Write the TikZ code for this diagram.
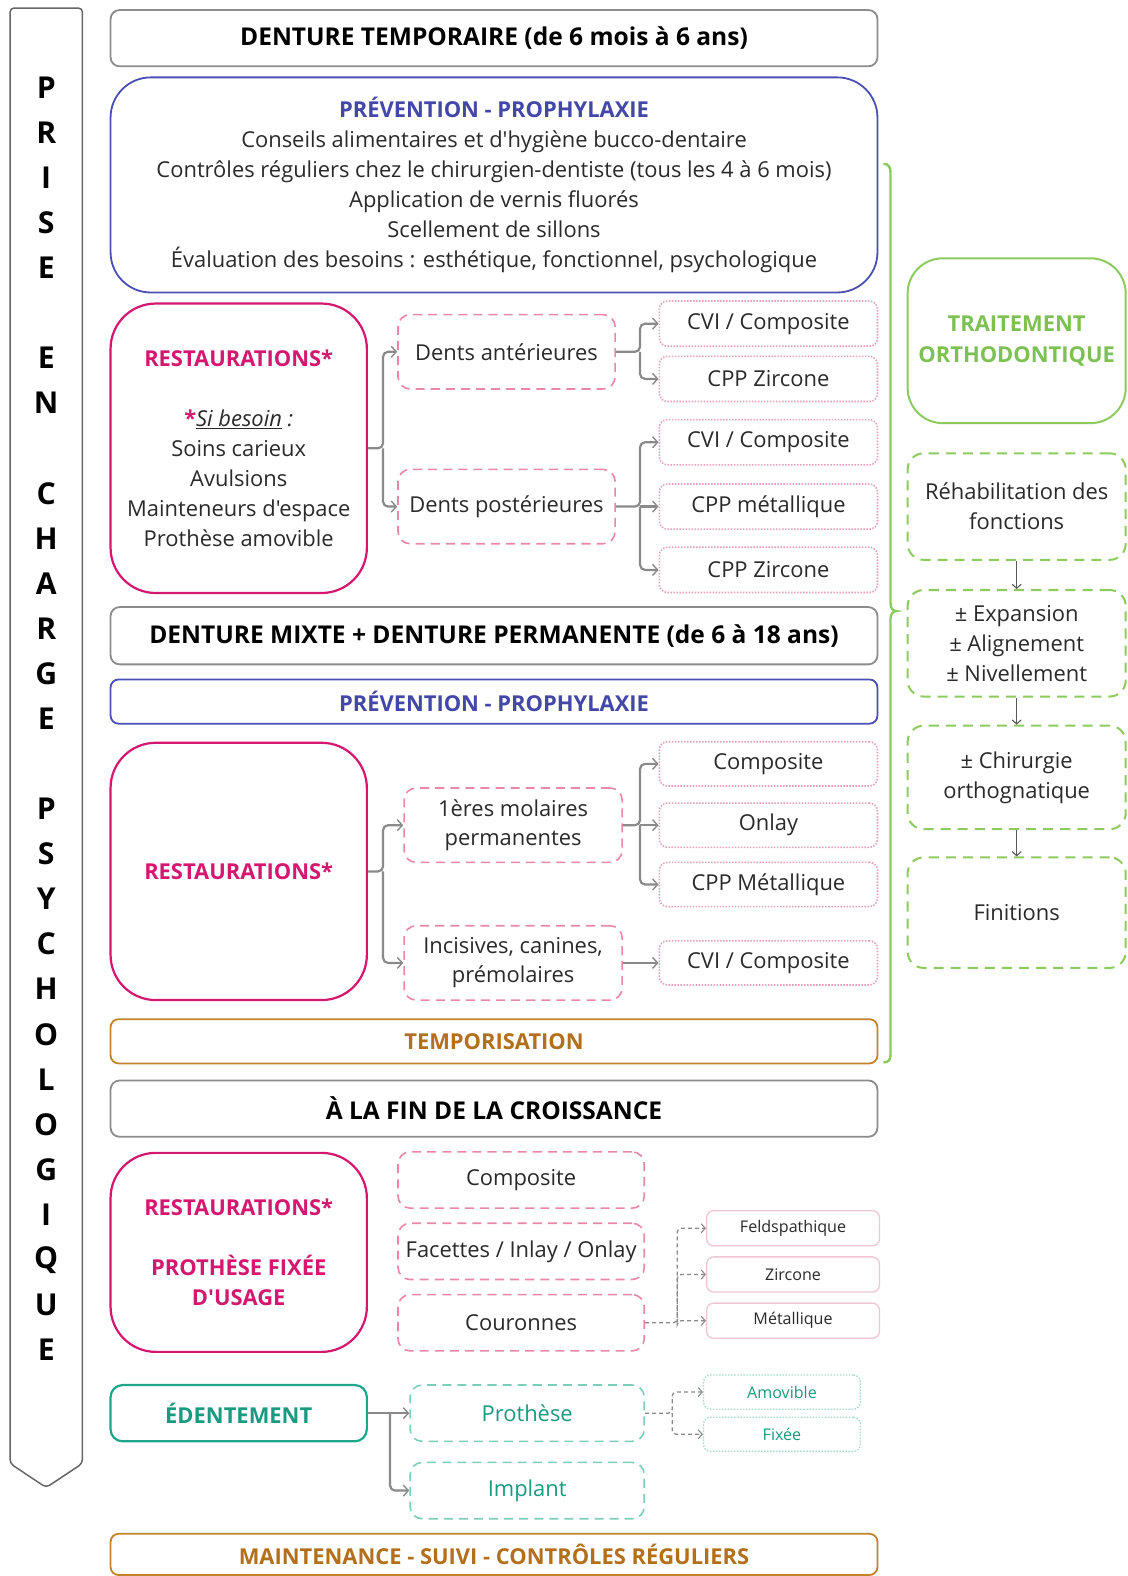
\documentclass[tikz,border=0pt]{standalone}
\usepackage{fontspec}
\setmainfont{Open Sans}[Ligatures=TeXOff]
\usetikzlibrary{arrows.meta}
\definecolor{hgray}{HTML}{8C8C8C}
\definecolor{cgray}{HTML}{8A8A8A}
\definecolor{txt}{HTML}{2A2A2A}
\definecolor{pblue}{HTML}{4A4FB5}
\definecolor{tblue}{HTML}{4347A8}
\definecolor{mag}{HTML}{D4176F}
\definecolor{pinkd}{HTML}{E987AA}
\definecolor{pinkdot}{HTML}{E4A0BC}
\definecolor{pinkl}{HTML}{F0C6D3}
\definecolor{grn}{HTML}{8DCB5E}
\definecolor{tgrn}{HTML}{7DC152}
\definecolor{teal}{HTML}{1FA58C}
\definecolor{ttxt}{HTML}{1A9A80}
\definecolor{teall}{HTML}{7CCDBA}
\definecolor{teald}{HTML}{A5DCCF}
\definecolor{org}{HTML}{C4832B}
\definecolor{torg}{HTML}{B36F1A}
\begin{document}
\begin{tikzpicture}[x=1pt,y=-1pt,
  box/.style={draw, fill=white, align=center, inner sep=2pt, text=txt},
  body/.style={font=\fontsize{21.8}{30}\selectfont},
  small/.style={font=\fontsize{16}{20}\selectfont},
  wide/.style={minimum width=763pt},
  hdr/.style={box, wide, draw=hgray, line width=1.8pt, rounded corners=9pt, minimum height=56pt, font=\fontsize{24.4}{28}\selectfont\bfseries, text=black},
  thin/.style={box, wide, line width=1.8pt, rounded corners=8pt, minimum height=44pt, font=\fontsize{21.8}{26}\selectfont\bfseries},
  restbox/.style={box, draw=mag, line width=2.2pt, rounded corners=45pt, minimum width=255pt},
  pdash/.style={box, body, draw=pinkd, line width=1.6pt, dash pattern=on 9pt off 6pt, rounded corners=12pt},
  pdot/.style={box, body, draw=pinkdot, line width=1.6pt, dash pattern=on 1.5pt off 1.5pt, rounded corners=8pt, minimum width=217pt},
  mbox/.style={box, small, draw=pinkl, line width=1.3pt, rounded corners=7pt, minimum width=172pt, minimum height=35pt},
  tdot/.style={box, small, draw=teald, line width=1.3pt, dash pattern=on 1.5pt off 1.5pt, rounded corners=7pt, minimum width=156pt, minimum height=34pt, text=ttxt},
  tdash/.style={box, body, draw=teall, line width=1.6pt, dash pattern=on 9pt off 6pt, rounded corners=12pt, minimum width=233pt, minimum height=56pt, text=ttxt},
  gdash/.style={box, body, draw=grn, line width=2pt, dash pattern=on 10pt off 7pt, rounded corners=16pt, minimum width=217pt},
  conn/.style={draw=cgray, line width=2.2pt, rounded corners=5pt, -{Straight Barb[length=5pt,width=11pt,line width=1.4pt]}},
  dconn/.style={draw=cgray, line width=1.3pt, dash pattern=on 4pt off 3pt, rounded corners=4pt, -{Straight Barb[length=4pt,width=9pt,line width=1.1pt]}},
  varrow/.style={draw=black!65, line width=1.3pt, -{Straight Barb[length=4pt,width=9pt,line width=1.1pt]}},
  letter/.style={font=\fontsize{30}{30}\selectfont\bfseries, text=black, inner sep=0pt}
]
\useasboundingbox (0,0) rectangle (1122,1568);

% left banner
\draw[draw=black!60, line width=1.5pt, rounded corners=4pt] (10,8) -- (82,8) -- (82,1456) -- (46,1480) -- (10,1456) -- cycle;
\foreach \c/\k in {P/0,R/1,I/2,S/3,E/4,E/6,N/7,C/9,H/10,A/11,R/12,G/13,E/14,P/16,S/17,Y/18,C/19,H/20,O/21,L/22,O/23,G/24,I/25,Q/26,U/27,E/28}
  \node[letter] (L\k) at (46,{87+\k*44.86}) {\c};

% ---- section 1
\node[hdr] (hdr1) at (491.5,38) {DENTURE TEMPORAIRE (de 6 mois à 6 ans)};
\node[box, wide, draw=pblue, line width=1.8pt, rounded corners=40pt, minimum height=214pt, body] (prev1) at (491.5,184)
  {{\bfseries\color{tblue}PRÉVENTION - PROPHYLAXIE}\\Conseils alimentaires et d'hygiène bucco-dentaire\\Contrôles réguliers chez le chirurgien-dentiste (tous les 4 à 6 mois)\\Application de vernis fluorés\\Scellement de sillons\\Évaluation des besoins : esthétique, fonctionnel, psychologique};
\node[restbox, minimum height=288pt, body] (rest1) at (237.5,446)
  {{\bfseries\color{mag}RESTAURATIONS*}\\[30pt]{\bfseries\color{mag}*}\textit{\underline{Si besoin} :}\\Soins carieux\\Avulsions\\Mainteneurs d'espace\\Prothèse amovible};
\node[pdash, minimum width=216pt, minimum height=74pt] (dant) at (504,350) {Dents antérieures};
\node[pdash, minimum width=216pt, minimum height=74pt] (dpost) at (504,504) {Dents postérieures};
\node[pdot, minimum height=45pt] (r1a) at (764.5,322) {CVI / Composite};
\node[pdot, minimum height=45pt] (r1b) at (764.5,377) {CPP Zircone};
\node[pdot, minimum height=45pt] (r1c) at (764.5,440) {CVI / Composite};
\node[pdot, minimum height=45pt] (r1d) at (764.5,504) {CPP métallique};
\node[pdot, minimum height=45pt] (r1e) at (764.5,567) {CPP Zircone};
\draw[conn] (rest1.east) -- ++(15,0) coordinate (j1) |- (dant.west);
\draw[conn] (j1) |- (dpost.west);
\draw[conn] (dant.east) -- ++(24,0) coordinate (j2) |- (r1a.west);
\draw[conn] (j2) |- (r1b.west);
\draw[conn] (dpost.east) -- ++(24,0) coordinate (j3) |- (r1c.west);
\draw[conn] (j3) -- (r1d.west);
\draw[conn] (j3) |- (r1e.west);

% ---- section 2
\node[hdr, minimum height=57pt] (hdr2) at (491.5,632.5) {DENTURE MIXTE + DENTURE PERMANENTE (de 6 à 18 ans)};
\node[thin, draw=pblue, text=tblue] (prev2) at (491.5,698) {PRÉVENTION - PROPHYLAXIE};
\node[restbox, minimum height=256pt, font=\fontsize{21.8}{30}\selectfont\bfseries, text=mag] (rest2) at (237.5,867) {RESTAURATIONS*};
\node[pdash, minimum width=217pt, minimum height=74pt, font=\fontsize{21.8}{29}\selectfont] (mol) at (510.5,821) {1ères molaires\\permanentes};
\node[pdash, minimum width=217pt, minimum height=74pt, font=\fontsize{21.8}{29}\selectfont] (inc) at (510.5,958) {Incisives, canines,\\prémolaires};
\node[pdot, minimum height=44pt] (r2a) at (764.5,760) {Composite};
\node[pdot, minimum height=44pt] (r2b) at (764.5,821) {Onlay};
\node[pdot, minimum height=44pt] (r2c) at (764.5,880) {CPP Métallique};
\node[pdot, minimum height=44pt] (r2d) at (764.5,958) {CVI / Composite};
\draw[conn] (rest2.east) -- ++(15,0) coordinate (j4) |- (mol.west);
\draw[conn] (j4) |- (inc.west);
\draw[conn] (mol.east) -- ++(17,0) coordinate (j5) |- (r2a.west);
\draw[conn] (j5) -- (r2b.west);
\draw[conn] (j5) |- (r2c.west);
\draw[conn] (inc.east) -- (r2d.west);
\node[thin, draw=org, text=torg] (temp) at (491.5,1036) {TEMPORISATION};

% brace
\draw[grn, line width=2.4pt] (879,163) .. controls (884,163) and (886,166) .. (886,172) -- (886,600) .. controls (886,605) and (888,608) .. (892,608) .. controls (888,608) and (886,611) .. (886,616) -- (886,1049) .. controls (886,1055) and (884,1057) .. (879,1057);

% right column
\node[box, draw=grn, line width=2pt, rounded corners=35pt, minimum width=217pt, minimum height=164pt, font=\fontsize{21.8}{31}\selectfont\bfseries, text=tgrn] (ortho) at (1011.5,339) {TRAITEMENT\\ORTHODONTIQUE};
\node[gdash, minimum height=106pt] (reh) at (1011.5,504) {Réhabilitation des\\fonctions};
\node[gdash, minimum height=106pt] (exp) at (1011.5,640) {± Expansion\\± Alignement\\± Nivellement};
\node[gdash, minimum height=103pt] (chir) at (1011.5,773.5) {± Chirurgie\\orthognatique};
\node[gdash, minimum height=110pt] (fin) at (1011.5,908) {Finitions};
\draw[varrow] (reh.south) -- (exp.north);
\draw[varrow] (exp.south) -- (chir.north);
\draw[varrow] (chir.south) -- (fin.north);

% ---- section 3
\node[hdr] (hdr3) at (491.5,1103) {À LA FIN DE LA CROISSANCE};
\node[restbox, minimum height=198pt, font=\fontsize{21.8}{30}\selectfont\bfseries, text=mag] (rest3) at (237.5,1246)
  {RESTAURATIONS*\\[30pt]PROTHÈSE FIXÉE\\D'USAGE};
\node[pdash, minimum width=245pt, minimum height=56pt] (c3a) at (518.5,1174) {Composite};
\node[pdash, minimum width=245pt, minimum height=56pt] (c3b) at (518.5,1245) {Facettes / Inlay / Onlay};
\node[pdash, minimum width=245pt, minimum height=56pt] (c3c) at (518.5,1316) {Couronnes};
\node[mbox] (m1) at (789,1222) {Feldspathique};
\node[mbox] (m2) at (789,1268) {Zircone};
\node[mbox] (m3) at (789,1314) {Métallique};
\draw[dconn] (c3c.east) -- ++(32,0) coordinate (j6) |- (m1.west);
\draw[dconn] (j6) |- (m2.west);
\draw[dconn] (j6) |- (m3.west);

\node[box, draw=teal, line width=2.2pt, rounded corners=12pt, minimum width=255pt, minimum height=56pt, font=\fontsize{21.8}{26}\selectfont\bfseries, text=ttxt] (eden) at (237.5,1406) {ÉDENTEMENT};
\node[tdash] (proth) at (524.5,1406) {Prothèse};
\node[tdash] (impl) at (524.5,1483) {Implant};
\node[tdot] (amo) at (778,1385) {Amovible};
\node[tdot] (fix) at (778,1427) {Fixée};
\draw[conn] (eden.east) -- ++(22,0) coordinate (j7) -- (proth.west);
\draw[conn] (j7) |- (impl.west);
\draw[dconn] (proth.east) -- ++(27,0) coordinate (j8) |- (amo.west);
\draw[dconn] (j8) |- (fix.west);

\node[thin, draw=org, text=torg, minimum height=41pt] (maint) at (491.5,1546.5) {MAINTENANCE - SUIVI - CONTRÔLES RÉGULIERS};
\end{tikzpicture}
\end{document}
